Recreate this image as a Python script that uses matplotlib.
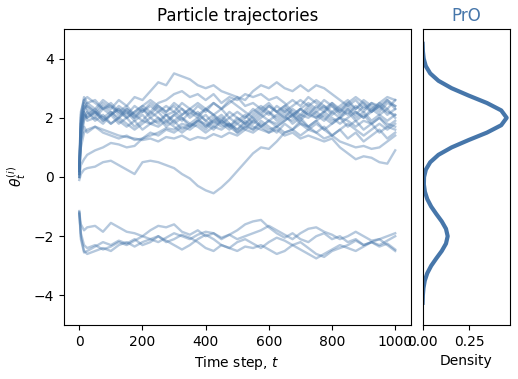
import matplotlib.pyplot as plt

# time grid of the read-off points
t_grid = [0, 5, 15] + list(range(25, 1001, 25))

# trajectories (values of theta at t_grid)
traj_top = [
    [0.2, 1.6, 2.3, 2.4, 2.2, 2.5, 2.3, 2.6, 2.4, 2.7, 2.6, 2.9, 3.2, 3.1, 3.5, 3.4, 3.3, 3.1, 3.0, 3.1, 2.9, 2.8,
     2.7, 2.4, 2.5, 2.3, 2.5, 2.2, 2.4, 2.1, 2.3, 2.5, 2.3, 2.6, 2.4, 2.2, 2.5, 2.3, 2.6, 2.4, 2.2, 2.5, 2.4],
    [0.1, 1.8, 2.4, 2.2, 2.0, 2.3, 2.1, 2.4, 2.2, 2.0, 2.3, 2.1, 2.4, 2.2, 2.5, 2.3, 2.1, 2.4, 2.2, 2.5, 2.3, 2.5,
     2.7, 2.6, 2.9, 3.1, 3.0, 3.2, 3.0, 2.9, 3.1, 2.9, 3.1, 3.0, 2.8, 2.6, 2.4, 2.6, 2.3, 2.5, 2.4, 2.6, 2.3],
    [0.3, 1.5, 2.1, 2.0, 2.2, 1.9, 2.1, 2.3, 2.0, 2.2, 2.4, 2.2, 2.5, 2.6, 2.8, 2.9, 2.7, 2.8, 2.6, 2.8, 2.5, 2.7,
     2.6, 2.8, 2.7, 2.8, 2.6, 2.7, 2.5, 2.2, 2.0, 2.3, 2.1, 1.9, 2.2, 2.0, 2.3, 2.1, 2.4, 2.2, 2.5, 2.3, 2.6],
    [-0.1, 0.1, 0.25, 0.3, 0.35, 0.5, 0.55, 0.4, 0.25, 0.1, 0.5, 0.55, 0.5, 0.4, 0.3, 0.1, -0.05, -0.3, -0.45,
     -0.55, -0.35, -0.1, 0.2, 0.5, 0.8, 1.0, 0.95, 1.2, 1.5, 1.6, 1.8, 1.7, 1.9, 2.1, 1.9, 2.0, 2.2, 1.9, 2.1,
     1.8, 2.0, 1.7, 1.9],
    [0.0, 0.4, 0.6, 0.75, 0.9, 1.0, 1.15, 1.1, 1.0, 1.05, 1.3, 1.4, 1.5, 1.65, 1.6, 1.8, 1.7, 1.9, 1.8, 1.6, 1.9,
     1.7, 2.0, 1.8, 1.6, 1.9, 1.7, 1.5, 1.8, 1.6, 1.9, 1.7, 1.5, 1.7, 1.4, 1.6, 1.3, 1.5, 1.2, 1.4, 1.6, 1.3, 1.5],
    [0.2, 1.2, 1.7, 1.5, 1.7, 1.5, 1.4, 1.3, 1.4, 1.25, 1.3, 1.5, 1.4, 1.6, 1.5, 1.7, 1.6, 1.8, 1.6, 1.9, 1.7,
     1.8, 1.6, 1.9, 1.7, 1.6, 1.5, 1.6, 1.4, 1.5, 1.3, 1.4, 1.3, 1.2, 1.3, 1.0, 0.8, 0.6, 0.7, 0.65, 0.5, 0.45, 0.9],
    [0.3, 1.7, 2.2, 2.0, 2.2, 1.9, 2.1, 1.8, 2.0, 1.7, 1.9, 1.8, 2.0, 1.7, 1.9, 1.6, 1.8, 1.7, 1.5, 1.7, 1.6, 1.8,
     1.5, 1.7, 1.6, 1.8, 1.6, 1.7, 1.5, 1.6, 1.4, 1.6, 1.5, 1.3, 1.4, 1.2, 1.1, 1.0, 1.05, 0.95, 1.0, 1.2, 1.4],
    [0.1, 1.0, 1.5, 1.6, 1.7, 1.6, 1.5, 1.4, 1.35, 1.3, 1.25, 1.3, 1.2, 1.35, 1.3, 1.4, 1.25, 1.35, 1.3, 1.45,
     1.35, 1.5, 1.4, 1.6, 1.5, 1.7, 1.9, 1.8, 2.0, 1.9, 2.1, 2.0, 2.2, 2.0, 1.8, 2.0, 1.9, 1.7, 1.9, 1.8, 2.0,
     1.8, 1.7],
    [0.2, 1.9, 2.5, 2.3, 2.1, 2.4, 2.2, 2.0, 2.3, 2.1, 1.9, 2.2, 2.0, 1.8, 2.1, 1.9, 2.2, 2.0, 2.3, 2.1, 1.9, 2.2,
     2.0, 1.8, 2.1, 2.3, 2.1, 2.4, 2.2, 2.0, 2.3, 2.1, 2.4, 2.2, 2.5, 2.3, 2.1, 2.4, 2.2, 2.5, 2.3, 2.6, 2.4],
    [0.0, 1.4, 2.0, 2.2, 1.9, 2.1, 1.8, 2.0, 2.2, 1.9, 2.1, 1.8, 1.9, 2.1, 1.8, 2.0, 1.7, 1.9, 2.1, 1.8, 2.0, 1.7,
     1.9, 2.1, 1.8, 2.0, 2.2, 1.9, 2.1, 1.8, 2.0, 1.7, 1.9, 1.6, 1.8, 2.0, 1.7, 1.9, 1.6, 1.8, 1.5, 1.7, 1.6],
    [0.4, 2.1, 2.7, 2.5, 2.6, 2.3, 2.5, 2.2, 2.4, 2.1, 2.3, 2.0, 2.2, 1.9, 2.1, 2.3, 2.0, 2.2, 1.9, 2.1, 1.8, 2.0,
     2.2, 2.0, 2.3, 2.1, 2.4, 2.2, 2.0, 2.3, 2.1, 2.4, 2.6, 2.4, 2.2, 2.4, 2.6, 2.3, 2.5, 2.2, 2.4, 2.1, 2.3],
    [0.1, 1.6, 2.2, 1.9, 2.0, 1.8, 2.1, 2.3, 2.1, 2.4, 2.2, 2.5, 2.3, 2.1, 2.2, 2.0, 1.8, 2.0, 1.7, 1.9, 2.1, 1.8,
     1.6, 1.8, 2.0, 1.7, 1.9, 2.1, 2.3, 2.1, 1.9, 2.2, 2.0, 2.2, 2.4, 2.1, 2.3, 2.0, 2.2, 1.9, 2.1, 2.3, 2.0],
    [0.3, 2.0, 2.6, 2.4, 2.2, 2.0, 2.2, 1.9, 1.7, 1.9, 1.6, 1.8, 1.7, 1.9, 1.7, 1.5, 1.7, 1.9, 1.7, 2.0, 1.8, 1.6,
     1.8, 1.6, 1.9, 1.7, 1.5, 1.7, 1.9, 2.1, 2.3, 2.1, 2.0, 2.2, 2.0, 1.8, 2.0, 2.2, 2.0, 2.3, 2.1, 1.9, 2.1],
    [0.2, 1.8, 2.3, 2.5, 2.3, 2.6, 2.4, 2.2, 2.0, 2.2, 2.4, 2.6, 2.4, 2.2, 2.4, 2.1, 2.3, 2.5, 2.3, 2.1, 2.3, 2.0,
     1.8, 2.0, 2.2, 2.4, 2.2, 2.0, 2.2, 2.4, 2.6, 2.4, 2.2, 2.4, 2.1, 2.3, 2.5, 2.7, 2.5, 2.3, 2.5, 2.7, 2.6],
    [0.0, 1.3, 1.9, 2.1, 2.3, 2.0, 1.8, 2.0, 1.8, 1.6, 1.8, 2.0, 1.8, 2.1, 1.9, 2.1, 2.3, 2.1, 1.9, 1.7, 1.9, 1.7,
     1.5, 1.7, 1.9, 2.1, 1.9, 1.7, 1.9, 2.1, 1.8, 1.6, 1.8, 1.6, 1.4, 1.6, 1.8, 1.6, 1.4, 1.6, 1.8, 1.6, 1.8],
    [0.3, 2.2, 2.6, 2.7, 2.5, 2.3, 2.4, 2.1, 2.3, 2.0, 2.2, 2.4, 2.2, 2.4, 2.2, 2.5, 2.3, 2.1, 2.3, 2.5, 2.3, 2.6,
     2.4, 2.2, 2.0, 2.2, 2.4, 2.2, 2.4, 2.6, 2.4, 2.7, 2.5, 2.3, 2.5, 2.2, 2.4, 2.2, 2.0, 2.2, 2.4, 2.2, 2.1],
]

traj_bottom = [
    [-1.2, -1.6, -1.8, -1.7, -1.65, -1.85, -1.55, -1.7, -1.85, -1.9, -2.0, -1.8, -1.65, -1.7, -1.6, -1.85, -1.95,
     -1.8, -2.0, -1.9, -2.1, -1.95, -1.8, -1.6, -1.5, -1.45, -1.7, -1.9, -2.05, -1.9, -2.1, -2.2, -2.0, -1.9,
     -2.1, -2.0, -2.2, -2.1, -2.3, -2.2, -2.1, -2.0, -1.9],
    [-1.15, -2.0, -2.5, -2.6, -2.5, -2.4, -2.5, -2.3, -2.2, -2.35, -2.2, -2.1, -2.0, -2.2, -2.1, -1.95, -2.05,
     -2.2, -2.4, -2.5, -2.3, -2.4, -2.5, -2.35, -2.4, -2.3, -2.45, -2.6, -2.5, -2.3, -2.2, -2.4, -2.6, -2.7,
     -2.5, -2.4, -2.3, -2.15, -2.3, -2.2, -2.35, -2.25, -2.45],
    [-1.25, -1.9, -2.3, -2.4, -2.3, -2.45, -2.35, -2.2, -2.3, -2.15, -2.0, -2.1, -2.2, -2.05, -1.9, -2.0, -2.1,
     -1.95, -1.85, -1.9, -2.05, -1.95, -2.1, -2.0, -1.9, -1.8, -1.65, -1.8, -1.95, -2.1, -1.9, -1.75, -1.7,
     -1.85, -1.95, -2.1, -2.0, -1.85, -2.0, -2.15, -2.1, -2.3, -2.5],
    [-1.2, -2.1, -2.55, -2.5, -2.35, -2.2, -2.3, -2.15, -2.25, -2.1, -2.3, -2.2, -2.0, -2.15, -2.3, -2.45, -2.3,
     -2.1, -1.95, -2.1, -2.3, -2.4, -2.2, -2.1, -2.25, -2.4, -2.2, -2.05, -2.15, -2.3, -2.45, -2.6, -2.75, -2.6,
     -2.45, -2.3, -2.4, -2.5, -2.35, -2.2, -2.3, -2.15, -2.0],
]

# density of the PrO panel read at these theta values
dens_theta = [-4.25 + 0.25 * i for i in range(36)]
dens_vals = [0.0006, 0.0019, 0.0052, 0.0122, 0.0254, 0.0462, 0.0735, 0.1025, 0.125, 0.134, 0.125, 0.1025,
             0.0735, 0.0462, 0.0256, 0.0128, 0.0073, 0.0083, 0.0179, 0.0412, 0.085, 0.155, 0.246, 0.343, 0.419,
             0.448, 0.419, 0.343, 0.246, 0.155, 0.085, 0.041, 0.0173, 0.0064, 0.0021, 0.0006]

blue = '#4676aa'

fig = plt.figure(figsize=(5.18, 3.79), dpi=100)
ax = fig.add_axes([63.5 / 518, 1 - 325 / 379, 347.5 / 518, 296 / 379])
ax2 = fig.add_axes([422.5 / 518, 1 - 325 / 379, 87 / 518, 296 / 379])

for tr in traj_top + traj_bottom:
    ax.plot(t_grid, tr, color=blue, alpha=0.4, lw=1.7)

ax.set_ylim(-5, 5)
ax.set_xlim(-50, 1050)
ax.set_title('Particle trajectories')
ax.set_xlabel('Time step, $t$')
ax.set_ylabel(r'$\theta_t^{(i)}$')

ax2.plot(dens_vals, dens_theta, color=blue, lw=3)
ax2.set_ylim(-5, 5)
ax2.set_xlim(0, 0.463)
ax2.set_xticks([0.0, 0.25])
ax2.set_xticklabels(['0.00', '0.25'])
ax2.set_yticks([])
ax2.set_xlabel('Density')
ax2.set_title('PrO', color=blue)

fig.savefig('out.png', dpi=100)
